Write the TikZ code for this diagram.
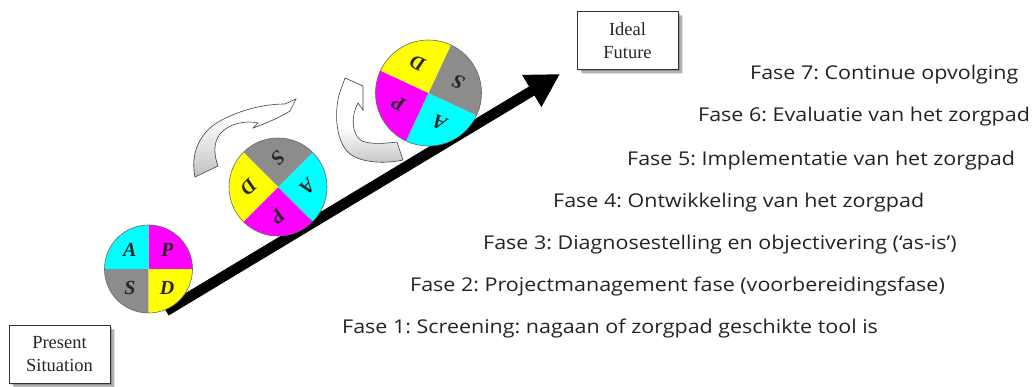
\documentclass[tikz,border=0pt]{standalone}
\usepackage{fontspec}
\setmainfont{Liberation Serif}
\newfontfamily\fasefont[FakeStretch=1.13]{Open Sans}
\usetikzlibrary{arrows.meta,calc}
\definecolor{pdcaP}{RGB}{255,0,255}
\definecolor{pdcaA}{RGB}{0,255,255}
\definecolor{pdcaS}{RGB}{140,140,140}
\definecolor{pdcaD}{RGB}{255,255,0}
\definecolor{arrowgray}{RGB}{185,185,185}
\definecolor{fasegray}{RGB}{35,35,35}
\newcommand\pdcawheel[5]{%
  \coordinate (#1) at (#2,#3);
  \fill[pdcaP] (#1) -- ++({-(#5)}:#4) arc[start angle={-(#5)}, end angle={-(#5)-90}, radius=#4] -- cycle;
  \fill[pdcaA] (#1) -- ++({-(#5)-90}:#4) arc[start angle={-(#5)-90}, end angle={-(#5)-180}, radius=#4] -- cycle;
  \fill[pdcaS] (#1) -- ++({-(#5)-180}:#4) arc[start angle={-(#5)-180}, end angle={-(#5)-270}, radius=#4] -- cycle;
  \fill[pdcaD] (#1) -- ++({-(#5)-270}:#4) arc[start angle={-(#5)-270}, end angle={-(#5)-360}, radius=#4] -- cycle;
  \draw[wheelrim] (#1) circle[radius=#4];
  \node[wheelletter, rotate=#5] (#1P) at ([shift={({-(#5)-45}:{0.6*#4})}]#1) {P};
  \node[wheelletter, rotate=#5] (#1A) at ([shift={({-(#5)-135}:{0.6*#4})}]#1) {A};
  \node[wheelletter, rotate=#5] (#1S) at ([shift={({-(#5)-225}:{0.6*#4})}]#1) {S};
  \node[wheelletter, rotate=#5] (#1D) at ([shift={({-(#5)-315}:{0.6*#4})}]#1) {D};
}
\begin{document}
\frenchspacing
\begin{tikzpicture}[x=1pt,y=-1pt,
  wheelrim/.style={draw=black!60, line width=0.6pt},
  wheelletter/.style={inner sep=0pt, font=\fontsize{20}{20}\selectfont\bfseries\itshape, text=black!85},
  statebox/.style={draw=black!80, line width=0.8pt, fill=white, minimum width=101pt, minimum height=58pt,
    align=center, inner sep=0pt, font=\fontsize{18.5}{23}\selectfont, text=black!85,
    preaction={fill=black, fill opacity=0.2, transform canvas={shift={(2pt,-2pt)}}},
    preaction={fill=black, fill opacity=0.2, transform canvas={shift={(3.5pt,-3.5pt)}}},
    preaction={fill=black, fill opacity=0.12, transform canvas={shift={(5pt,-5pt)}}}},
  fase/.style={anchor=base west, inner sep=0pt, font=\fasefont\fontsize{19}{21}\selectfont, text=fasegray},
  curvedarrow/.style={draw=black!75, line width=0.6pt}
]
\useasboundingbox (0,0) rectangle (1035,387);

% state boxes
\node[statebox] (present) at (59.5,354) {Present\\Situation};
\node[statebox] (ideal) at (627.5,40.5) {Ideal\\Future};

% main arrow
\coordinate (arrowstart) at (166,311);
\coordinate (arrowtip) at (560,74);
\draw[line width=10.5pt, -{Triangle[length=33pt,width=35pt]}] (arrowstart) -- (arrowtip);

% wheels
\pdcawheel{wheelone}{148.5}{269}{44}{0}
\pdcawheel{wheeltwo}{278}{187}{49}{-135}
\pdcawheel{wheelthree}{428.5}{93}{53}{155}

% curved arrow 1
\def\arrowonepath{(195,177) .. controls (190,153) and (200,132) .. (220,121)
  .. controls (238,111) and (262,104) .. (285,104)
  -- (296,99) -- (290,111) .. controls (282,116) and (270,122) .. (253,128)
  -- (258,123) .. controls (245,120) and (228,124) .. (220,134)
  .. controls (213,143) and (214,155) .. (218,166) -- cycle}
\begin{scope}
  \clip \arrowonepath;
  \fill[white] (180,90) rectangle (305,185);
  \shade[top color=white, bottom color=arrowgray] (180,118) rectangle (305,185);
\end{scope}
\draw[curvedarrow] \arrowonepath;

% curved arrow 2
\def\arrowtwopath{(345,78) -- (363,86) -- (363,110) -- (358,103)
  .. controls (351,115) and (351,135) .. (362,141)
  .. controls (372,145) and (388,143) .. (397,142)
  -- (403,160)
  .. controls (385,164) and (362,163) .. (350,154)
  .. controls (335,142) and (334,110) .. (340,92) -- cycle}
\begin{scope}
  \clip \arrowtwopath;
  \fill[white] (330,70) rectangle (410,170);
  \shade[top color=white, bottom color=arrowgray] (330,128) rectangle (410,170);
\end{scope}
\draw[curvedarrow] \arrowtwopath;

% phases
\node[fase] (f7) at (750,80) {Fase 7: Continue opvolging};
\node[fase] (f6) at (698,121.5) {Fase 6: Evaluatie van het zorgpad};
\node[fase] (f5) at (627,166) {Fase 5: Implementatie van het zorgpad};
\node[fase] (f4) at (553,208) {Fase 4: Ontwikkeling van het zorgpad};
\node[fase] (f3) at (483,250) {Fase 3: Diagnosestelling en objectivering (‘as-is’)};
\node[fase] (f2) at (410,291.5) {Fase 2: Projectmanagement fase (voorbereidingsfase)};
\node[fase] (f1) at (342,333) {Fase 1: Screening: nagaan of zorgpad geschikte tool is};
\end{tikzpicture}
\end{document}
